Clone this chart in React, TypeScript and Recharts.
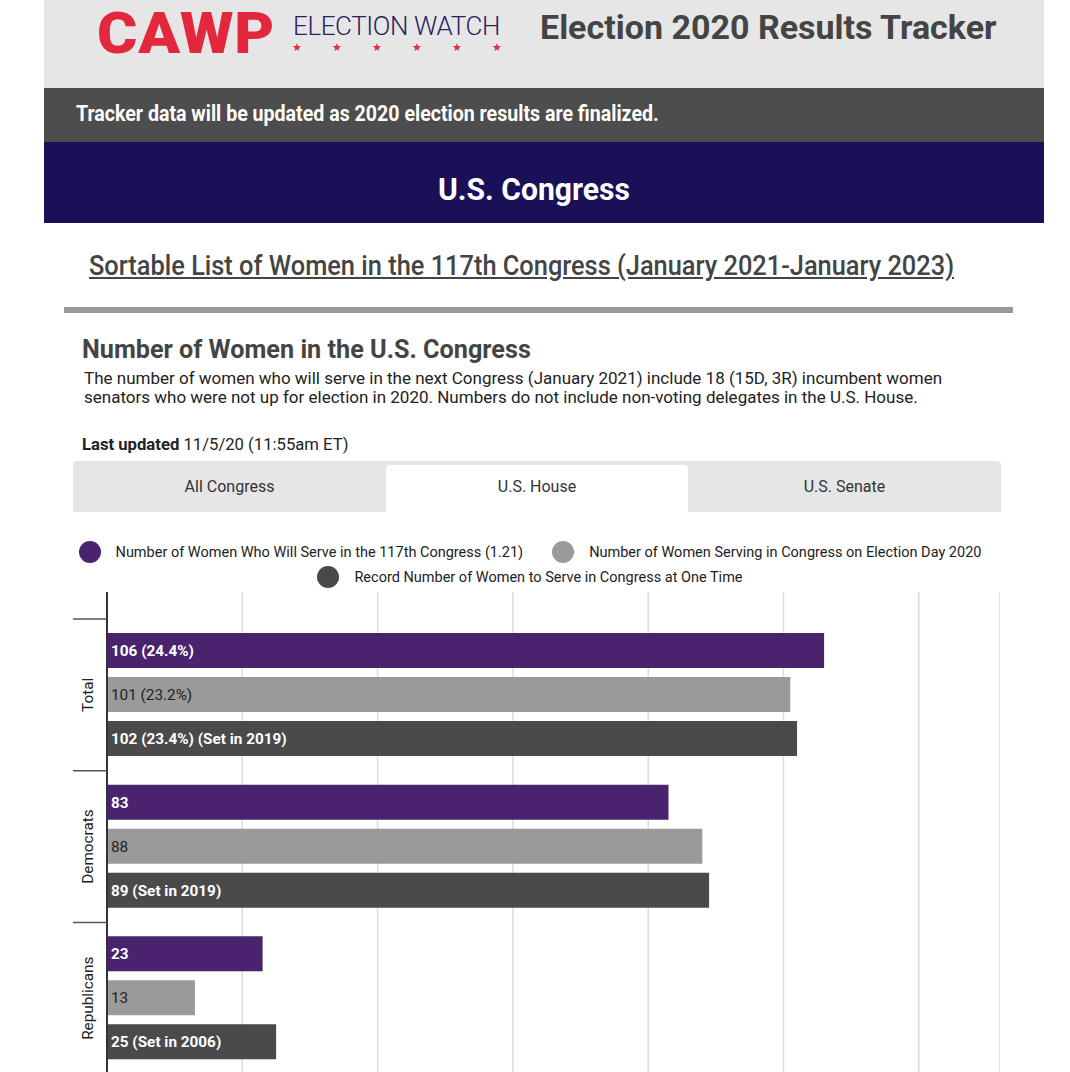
import React from 'react';
import { BarChart, Bar, XAxis, YAxis, CartesianGrid, LabelList } from 'recharts';

const categories = ['Total', 'Democrats', 'Republicans'];
const next117 = [106, 83, 23];
const electionDay = [101, 88, 13];
const record = [102, 89, 25];
const next117Labels = ['106 (24.4%)', '83', '23'];
const electionDayLabels = ['101 (23.2%)', '88', '13'];
const recordLabels = ['102 (23.4%) (Set in 2019)', '89 (Set in 2019)', '25 (Set in 2006)'];
const seriesNames = [
  'Number of Women Who Will Serve in the 117th Congress (1.21)',
  'Number of Women Serving in Congress on Election Day 2020',
  'Record Number of Women to Serve in Congress at One Time',
];
const xTicks = [0, 20, 40, 60, 80, 100, 120];
const tabs = ['All Congress', 'U.S. House', 'U.S. Senate'];

const COLORS = ['#4a236f', '#9a9a9a', '#4a4a4a'];
const BAND = 151.5;
const FS = 15.3;

const data = categories.map((name, i) => ({
  name,
  next117: next117[i],
  electionDay: electionDay[i],
  record: record[i],
  l1: next117Labels[i],
  l2: electionDayLabels[i],
  l3: recordLabels[i],
}));

// squeeze Roboto a little, the page uses a condensed face
const narrow = (sx: number): React.CSSProperties => ({ transform: `scaleX(${sx})`, transformOrigin: 'left top', whiteSpace: 'nowrap' });

const CategoryTick = (props: any) => {
  const { y, payload } = props;
  const top = y - BAND / 2;
  return (
    <g>
      <line x1={29} x2={63} y1={top} y2={top} stroke="#555" strokeWidth={1.5} />
      <text
        x={44}
        y={y}
        transform={`rotate(-90 44 ${y})`}
        textAnchor="middle"
        dominantBaseline="central"
        fontSize={FS}
        fill="#222"
        fontFamily="Roboto, sans-serif"
      >
        {payload.value}
      </text>
    </g>
  );
};

const Dot = ({ color }: { color: string }) => (
  <span style={{ display: 'inline-block', width: 22, height: 22, borderRadius: 11, background: color, marginRight: 15 }} />
);

const App: React.FC = () => {
  return (
    <div style={{ position: 'relative', width: 1070, height: 1072, overflow: 'hidden', background: '#fff', fontFamily: 'Roboto, sans-serif' }}>
      <style>{'body{margin:0}'}</style>

      {/* header */}
      <div style={{ position: 'absolute', left: 44, top: 0, width: 1000, height: 88, background: '#e6e6e6' }}>
        <div style={{ position: 'absolute', left: 53, top: 0, fontSize: 57, fontWeight: 900, color: '#e3283d', letterSpacing: 0.8, ...narrow(1.08) }}>CAWP</div>
        <div style={{ position: 'absolute', left: 249, top: 11, fontSize: 26, fontWeight: 300, color: '#29215f', letterSpacing: -0.4 }}>ELECTION WATCH</div>
        {[0, 1, 2, 3, 4, 5].map(i => (
          <div key={i} style={{ position: 'absolute', left: 248 + i * 40, top: 41, fontSize: 11, color: '#e3283d' }}>★</div>
        ))}
        <div style={{ position: 'absolute', left: 496, top: 7, fontSize: 34, fontWeight: 700, color: '#444' }}>Election 2020 Results Tracker</div>
      </div>
      <div style={{ position: 'absolute', left: 44, top: 88, width: 1000, height: 54, background: '#4d4d4d' }}>
        <div style={{ position: 'absolute', left: 32, top: 13, fontSize: 22, fontWeight: 700, color: '#fff', ...narrow(0.89) }}>
          Tracker data will be updated as 2020 election results are finalized.
        </div>
      </div>
      <div style={{ position: 'absolute', left: 44, top: 142, width: 1000, height: 81, background: '#1a1058' }}>
        <div style={{ position: 'absolute', left: 394, top: 28, fontSize: 32, fontWeight: 700, color: '#fff', ...narrow(0.94) }}>
          U.S. Congress
        </div>
      </div>

      <div style={{ position: 'absolute', left: 89, top: 250, fontSize: 27, fontWeight: 500, color: '#444', textDecoration: 'underline', ...narrow(0.94) }}>
        Sortable List of Women in the 117th Congress (January 2021-January 2023)
      </div>
      <div style={{ position: 'absolute', left: 64, top: 307, width: 949, height: 6, background: '#999' }} />

      <div style={{ position: 'absolute', left: 82, top: 334, fontSize: 26, fontWeight: 700, color: '#444', ...narrow(0.97) }}>
        Number of Women in the U.S. Congress
      </div>
      <div style={{ position: 'absolute', left: 84, top: 369, width: 900, fontSize: 17, lineHeight: '19px', color: '#222' }}>
        The number of women who will serve in the next Congress (January 2021) include 18 (15D, 3R) incumbent women
        <br />
        senators who were not up for election in 2020. Numbers do not include non-voting delegates in the U.S. House.
      </div>
      <div style={{ position: 'absolute', left: 82, top: 434, fontSize: 17, color: '#222', ...narrow(0.98) }}>
        <b>Last updated</b> 11/5/20 (11:55am ET)
      </div>

      {/* tabs */}
      <div style={{ position: 'absolute', left: 73, top: 461, width: 928, height: 51, background: '#e6e6e6', borderRadius: '4px 4px 0 0' }}>
        {tabs.map((t, i) => (
          <div
            key={t}
            style={{
              position: 'absolute',
              left: [0, 313, 615][i],
              top: i === 1 ? 4 : 0,
              width: [313, 302, 313][i],
              height: i === 1 ? 47 : 51,
              background: i === 1 ? '#fff' : 'transparent',
              borderRadius: i === 1 ? '4px 4px 0 0' : 0,
              textAlign: 'center',
              lineHeight: i === 1 ? '44px' : '52px',
              fontSize: 16,
              color: '#333',
            }}
          >
            {t}
          </div>
        ))}
      </div>

      {/* legend */}
      <div style={{ position: 'absolute', left: 44, top: 540, width: 972, fontSize: 14.5, color: '#222' }}>
        <div style={{ display: 'flex', justifyContent: 'center', alignItems: 'center', height: 24 }}>
          <Dot color={COLORS[0]} />
          <span style={{ marginRight: 29 }}>{seriesNames[0]}</span>
          <Dot color={COLORS[1]} />
          <span>{seriesNames[1]}</span>
        </div>
        <div style={{ display: 'flex', justifyContent: 'center', alignItems: 'center', height: 24, marginTop: 1 }}>
          <Dot color={COLORS[2]} />
          <span>{seriesNames[2]}</span>
        </div>
      </div>

      {/* chart */}
      <div style={{ position: 'absolute', left: 44, top: 592 }}>
        <BarChart
          width={956}
          height={482}
          data={data}
          layout="vertical"
          margin={{ top: 0, right: 0, bottom: 0, left: 0 }}
          barSize={35}
          barGap={9}
        >
          <CartesianGrid horizontal={false} stroke="#dcdcdc" strokeWidth={1.5} />
          <XAxis type="number" domain={[0, 132]} ticks={xTicks} hide />
          <YAxis
            type="category"
            dataKey="name"
            width={63}
            padding={{ top: 27, bottom: 0 }}
            axisLine={{ stroke: '#333', strokeWidth: 2 }}
            tickLine={false}
            tick={<CategoryTick />}
          />
          <Bar dataKey="next117" fill={COLORS[0]} isAnimationActive={false}>
            <LabelList dataKey="l1" position="insideLeft" offset={4} fill="#fff" fontWeight={700} fontSize={FS} fontFamily="Roboto, sans-serif" />
          </Bar>
          <Bar dataKey="electionDay" fill={COLORS[1]} isAnimationActive={false}>
            <LabelList dataKey="l2" position="insideLeft" offset={4} fill="#222" fontSize={FS} fontFamily="Roboto, sans-serif" />
          </Bar>
          <Bar dataKey="record" fill={COLORS[2]} isAnimationActive={false}>
            <LabelList dataKey="l3" position="insideLeft" offset={4} fill="#fff" fontWeight={700} fontSize={FS} fontFamily="Roboto, sans-serif" />
          </Bar>
        </BarChart>
      </div>
    </div>
  );
};

export default App;
